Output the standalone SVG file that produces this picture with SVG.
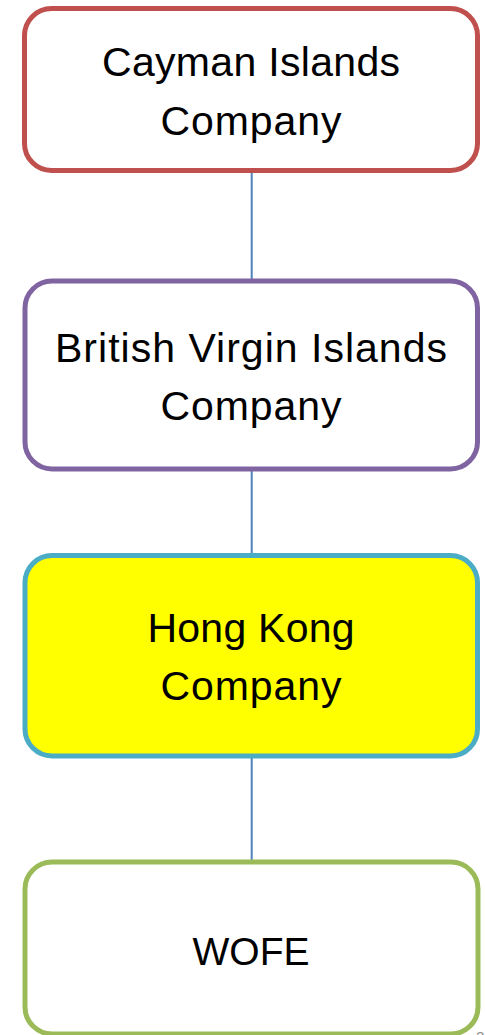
<svg xmlns="http://www.w3.org/2000/svg" width="485" height="1035" viewBox="0 0 485 1035">
<style>
.box{stroke-width:5;}
.lbl{font-family:"Liberation Sans",Arial,sans-serif;font-size:41px;fill:#000;text-anchor:middle;}
.conn{stroke:#4F81BD;stroke-width:2;fill:none;}
</style>
<rect width="485" height="1035" fill="#FFFFFF"/>
<g id="connectors">
<line class="conn" x1="251.7" y1="172" x2="251.7" y2="280"/>
<line class="conn" x1="251.7" y1="470" x2="251.7" y2="554"/>
<line class="conn" x1="251.7" y1="757" x2="251.7" y2="861"/>
</g>
<g id="cayman">
<rect class="box" x="24.5" y="8.5" width="453" height="162" rx="27" ry="27" fill="#FFFFFF" stroke="#C0504D"/>
<text class="lbl" x="251" y="76" textLength="298">Cayman Islands</text>
<text class="lbl" x="251" y="135" textLength="181">Company</text>
</g>
<g id="bvi">
<rect class="box" x="25" y="281" width="452.5" height="188" rx="27" ry="27" fill="#FFFFFF" stroke="#8064A2"/>
<text class="lbl" x="251" y="361.5" textLength="392">British Virgin Islands</text>
<text class="lbl" x="251" y="419.5" textLength="181">Company</text>
</g>
<g id="hongkong">
<rect class="box" x="25" y="555.5" width="452.5" height="200.5" rx="27" ry="27" fill="#FFFF00" stroke="#4BACC6"/>
<text class="lbl" x="251" y="642" textLength="207">Hong Kong</text>
<text class="lbl" x="251" y="699.5" textLength="181">Company</text>
</g>
<g id="wofe">
<rect class="box" x="25" y="862" width="453" height="172" rx="27" ry="27" fill="#FFFFFF" stroke="#9BBB59"/>
<text class="lbl" x="251" y="965" style="font-size:39px">WOFE</text>
</g>
<text x="476" y="1042" font-family="'Liberation Sans',Arial,sans-serif" font-size="15" fill="#8C8C8C">2</text>
</svg>
